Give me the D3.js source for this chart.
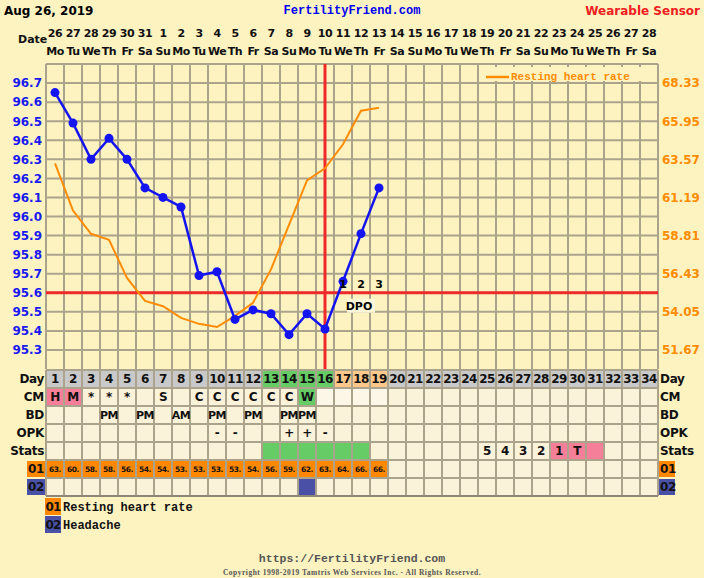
<!DOCTYPE html>
<html><head><meta charset="utf-8">
<script src="https://cdn.jsdelivr.net/npm/d3@7"></script>
<style>
html,body{margin:0;padding:0;background:#fdf3c1;}
svg{display:block;}
</style></head>
<body>
<script>
// ---- data ----
const dates = [26,27,28,29,30,31,1,2,3,4,5,6,7,8,9,10,11,12,13,14,15,16,17,18,19,20,21,22,23,24,25,26,27,28];
const weekdays = ["Mo","Tu","We","Th","Fr","Sa","Su"];
const temps = [96.65,96.49,96.30,96.41,96.30,96.15,96.10,96.05,95.69,95.71,95.46,95.51,95.49,95.38,95.49,95.41,95.66,95.91,96.15];
const heartRate = [63.32,60.37,58.92,58.54,56.17,54.73,54.40,53.67,53.30,53.10,53.80,54.61,56.70,59.48,62.26,63.01,64.51,66.60,66.79];
const tempTicks = [96.7,96.6,96.5,96.4,96.3,96.2,96.1,96.0,95.9,95.8,95.7,95.6,95.5,95.4,95.3];
const hrTicks = [68.33,65.95,63.57,61.19,58.81,56.43,54.05,51.67];
const coverline = 95.6;
const ovulationDay = 16;
const dpoLabels = ["1","2","3"];
const cm = ["H","M","*","*","*","","S","","C","C","C","C","C","C","W"];
const bd = ["","","","PM","","PM","","AM","","PM","","PM","","PM","PM"];
const opk = ["","","","","","","","","","-","-","","","+","+","-"];
const stats = {25:"5",26:"4",27:"3",28:"2",29:"1",30:"T",31:""};
const headacheDays = [15];
const rowLabels = ["Day","CM","BD","OPK","Stats","01","02"];

// ---- layout ----
const W = 704, H = 578;
const svg = d3.select("body").append("svg").attr("width", W).attr("height", H);
const bg = "#fdf3c1", grid = "#aca38c", cellBg = "#fbf2da";
const sans = "'DejaVu Sans', Verdana, sans-serif";
const mono = "'Liberation Mono', 'Courier New', monospace";

const nDays = dates.length;
const x = d3.scaleLinear().domain([0.5, nDays + 0.5]).range([46, 658]);
const colW = x(1.5) - x(0.5);
const y = d3.scaleLinear().domain([95.2, 96.8]).range([369, 64]);
const yHR = d3.scaleLinear().domain([hrTicks[hrTicks.length-1], hrTicks[0]]).range([y(95.3), y(96.7)]);

svg.append("rect").attr("width", W).attr("height", H).attr("fill", bg);

// header
svg.append("text").attr("x", 4).attr("y", 15).attr("font-family", sans).attr("font-weight", "bold")
  .attr("font-size", 12).attr("fill", "#000").text("Aug 26, 2019");
svg.append("text").attr("x", 352).attr("y", 14).attr("text-anchor", "middle").attr("font-family", mono)
  .attr("font-weight", "bold").attr("font-size", 12).attr("fill", "#0000ee").text("FertilityFriend.com");
svg.append("text").attr("x", 700).attr("y", 15).attr("text-anchor", "end").attr("font-family", sans)
  .attr("font-weight", "bold").attr("font-size", 12).attr("fill", "#ee2020").text("Wearable Sensor");

svg.append("text").attr("x", 18).attr("y", 43).attr("font-family", sans).attr("font-weight", "bold")
  .attr("font-size", 11).attr("fill", "#111").text("Date");
svg.append("g").selectAll("text").data(dates).join("text")
  .attr("x", (d,i) => x(i+1)).attr("y", 37).attr("text-anchor", "middle")
  .attr("font-family", sans).attr("font-weight", "bold").attr("font-size", 11).attr("letter-spacing", -0.5)
  .attr("fill", "#111").text(d => d);
svg.append("g").selectAll("text").data(dates).join("text")
  .attr("x", (d,i) => x(i+1)).attr("y", 55).attr("text-anchor", "middle")
  .attr("font-family", sans).attr("font-weight", "bold").attr("font-size", 11).attr("letter-spacing", -0.5)
  .attr("fill", "#111").text((d,i) => weekdays[i % 7]);

// grid
const gridG = svg.append("g");
const hLines = d3.range(0, 17).map(k => 95.2 + k*0.1);
gridG.selectAll("line.h").data(hLines.slice(1)).join("line")
  .attr("x1", x(0.5)).attr("x2", x(nDays+0.5)).attr("y1", d => y(d)).attr("y2", d => y(d))
  .attr("stroke", grid).attr("stroke-width", 2);
gridG.selectAll("line.v").data(d3.range(0, nDays+1)).join("line")
  .attr("x1", d => x(d+0.5)).attr("x2", d => x(d+0.5)).attr("y1", y(96.8)).attr("y2", y(95.2))
  .attr("stroke", grid).attr("stroke-width", 2);

// legend box inside plot
svg.append("rect").attr("x", 482).attr("y", 67).attr("width", 173).attr("height", 14).attr("fill", bg);
svg.append("line").attr("x1", 486).attr("x2", 509).attr("y1", 77).attr("y2", 77).attr("stroke", "#ff8c00").attr("stroke-width", 2.5);
svg.append("text").attr("x", 511).attr("y", 80).attr("font-family", mono).attr("font-weight", "bold")
  .attr("font-size", 11).attr("fill", "#ff8c00").text("Resting heart rate");

// axes labels
svg.append("g").selectAll("text").data(tempTicks).join("text")
  .attr("x", 42).attr("y", d => y(d)).attr("dy", "0.36em").attr("text-anchor", "end")
  .attr("font-family", sans).attr("font-weight", "bold").attr("font-size", 12).attr("fill", "#1a1af0")
  .text(d => d.toFixed(1));
svg.append("g").selectAll("text").data(hrTicks).join("text")
  .attr("x", 662).attr("y", d => yHR(d)).attr("dy", "0.36em")
  .attr("font-family", sans).attr("font-weight", "bold").attr("font-size", 12).attr("fill", "#ff8c00")
  .text(d => d.toFixed(2));

// red lines
svg.append("line").attr("x1", x(0.5)).attr("x2", x(nDays+0.5)).attr("y1", y(coverline)).attr("y2", y(coverline))
  .attr("stroke", "#ee2a2a").attr("stroke-width", 3);
svg.append("line").attr("x1", x(ovulationDay)).attr("x2", x(ovulationDay)).attr("y1", y(96.8)).attr("y2", 372)
  .attr("stroke", "#ee2a2a").attr("stroke-width", 3);

// orange HR line
svg.append("path").datum(heartRate)
  .attr("d", d3.line().x((d,i) => x(i+1)).y(d => yHR(d)))
  .attr("fill", "none").attr("stroke", "#ff8c00").attr("stroke-width", 2);

// blue temp line
svg.append("path").datum(temps)
  .attr("d", d3.line().x((d,i) => x(i+1)).y(d => y(d)))
  .attr("fill", "none").attr("stroke", "#1414f0").attr("stroke-width", 2.5);
svg.append("g").selectAll("circle").data(temps).join("circle")
  .attr("cx", (d,i) => x(i+1)).attr("cy", d => y(d)).attr("r", 4.5).attr("fill", "#1414f0");

// DPO labels
svg.append("g").selectAll("text").data(dpoLabels).join("text")
  .attr("x", (d,i) => x(ovulationDay + 1 + i)).attr("y", y(coverline) - 5).attr("text-anchor", "middle")
  .attr("font-family", sans).attr("font-weight", "bold").attr("font-size", 11).attr("fill", "#000").text(d => d);
svg.append("rect").attr("x", x(ovulationDay+2) - 14).attr("y", y(coverline) + 6).attr("width", 28).attr("height", 14)
  .attr("fill", "#fdf6d8");
svg.append("text").attr("x", x(ovulationDay+2) - 2).attr("y", y(coverline) + 17).attr("text-anchor", "middle")
  .attr("font-family", sans).attr("font-weight", "bold").attr("font-size", 11).attr("fill", "#000").text("DPO");

// ---- table ----
const rowH = 18, tableTop = 370;
const rowY = i => tableTop + i*rowH;
const tbl = svg.append("g");
function cellColor(r, day) {
  if (r === 0) {
    if (day >= 13 && day <= 16) return "#66cc66";
    if (day >= 17 && day <= 19) return "#fdc88a";
    return "#c9c9c9";
  }
  if (r === 1) {
    if (day <= 2) return "#f57f98";
    if (day === 15) return "#66cc66";
    if (day >= 16 && day <= 19) return "#fdf7e8";
  }
  if (r === 4) {
    if (day >= 13 && day <= 18) return "#66cc66";
    if (day >= 29 && day <= 31) return "#f57f98";
  }
  if (r === 5 && day <= heartRate.length) return "#ff8800";
  if (r === 6 && headacheDays.includes(day)) return "#4a50a6";
  return cellBg;
}
for (let r = 0; r < 7; r++) {
  for (let d = 1; d <= nDays; d++) {
    tbl.append("rect").attr("x", x(d-0.5)).attr("y", rowY(r)).attr("width", colW).attr("height", rowH)
      .attr("fill", cellColor(r, d));
  }
}
// table grid
tbl.selectAll("line.th").data(d3.range(0, 8)).join("line")
  .attr("x1", x(0.5)).attr("x2", x(nDays+0.5)).attr("y1", d => rowY(d)).attr("y2", d => rowY(d))
  .attr("stroke", grid).attr("stroke-width", 2);
tbl.selectAll("line.tv").data(d3.range(0, nDays+1)).join("line")
  .attr("x1", d => x(d+0.5)).attr("x2", d => x(d+0.5)).attr("y1", rowY(0)).attr("y2", rowY(7))
  .attr("stroke", grid).attr("stroke-width", 2);
tbl.append("line").attr("x1", x(0.5)).attr("x2", x(nDays+0.5)).attr("y1", rowY(7)).attr("y2", rowY(7))
  .attr("stroke", "#8e8677").attr("stroke-width", 2);

function cellText(r, arr, fs) {
  tbl.append("g").selectAll("text").data(arr).join("text")
    .attr("x", d => x(d.day)).attr("y", rowY(r) + rowH/2).attr("dy", "0.36em").attr("text-anchor", "middle")
    .attr("font-family", sans).attr("font-weight", "bold").attr("font-size", fs || 12).attr("fill", "#111")
    .attr("letter-spacing", -0.5).text(d => d.t);
}
cellText(0, d3.range(1, nDays+1).map(d => ({day: d, t: d})), 12);
cellText(1, cm.map((t,i) => ({day: i+1, t})).filter(d => d.t), 12);
cellText(2, bd.map((t,i) => ({day: i+1, t})).filter(d => d.t), 11);
cellText(3, opk.map((t,i) => ({day: i+1, t})).filter(d => d.t), 12);
cellText(4, Object.entries(stats).map(([k,t]) => ({day: +k, t})).filter(d => d.t), 12);
cellText(5, heartRate.map((v,i) => ({day: i+1, t: Math.floor(v) + "."})), 7.5);

// row labels
const lab = svg.append("g");
rowLabels.forEach((t, r) => {
  const cy = rowY(r) + rowH/2;
  if (r >= 5) {
    const col = r === 5 ? "#ff8800" : "#4a50a6";
    lab.append("rect").attr("x", 27).attr("y", rowY(r)+1).attr("width", 18).attr("height", rowH-2).attr("fill", col);
    lab.append("rect").attr("x", 659).attr("y", rowY(r)+1).attr("width", 16).attr("height", rowH-2).attr("fill", col);
  }
  lab.append("text").attr("x", 44).attr("y", cy).attr("dy", "0.36em").attr("text-anchor", "end")
    .attr("font-family", sans).attr("font-weight", "bold").attr("font-size", 12).attr("fill", "#111")
    .attr("letter-spacing", -0.3).text(t);
  lab.append("text").attr("x", 660).attr("y", cy).attr("dy", "0.36em")
    .attr("font-family", sans).attr("font-weight", "bold").attr("font-size", 12).attr("fill", "#111")
    .attr("letter-spacing", -0.3).text(t);
});

// bottom legend
const legendItems = [{code: "01", label: "Resting heart rate", col: "#ff8800"}, {code: "02", label: "Headache", col: "#4a50a6"}];
legendItems.forEach((it, i) => {
  const ly = 498 + i*18;
  svg.append("rect").attr("x", 45).attr("y", ly).attr("width", 16).attr("height", 17).attr("fill", it.col);
  svg.append("text").attr("x", 53).attr("y", ly + 8.5).attr("dy", "0.36em").attr("text-anchor", "middle")
    .attr("font-family", sans).attr("font-weight", "bold").attr("font-size", 12).attr("letter-spacing", -0.8)
    .attr("fill", "#111").text(it.code);
  svg.append("text").attr("x", 63).attr("y", ly + 8.5).attr("dy", "0.36em")
    .attr("font-family", mono).attr("font-weight", "bold").attr("font-size", 12).attr("fill", "#111").text(it.label);
});

// footer
svg.append("text").attr("x", 352).attr("y", 562).attr("text-anchor", "middle").attr("font-family", mono)
  .attr("font-weight", "bold").attr("font-size", 11.5).attr("fill", "#555").text("https://FertilityFriend.com");
svg.append("text").attr("x", 352).attr("y", 575).attr("text-anchor", "middle").attr("font-family", "'Liberation Serif', serif")
  .attr("font-weight", "bold").attr("font-size", 7.5).attr("letter-spacing", 0.5).attr("fill", "#555")
  .text("Copyright 1998-2019 Tamtris Web Services Inc. - All Rights Reserved.");
</script>
</body></html>
